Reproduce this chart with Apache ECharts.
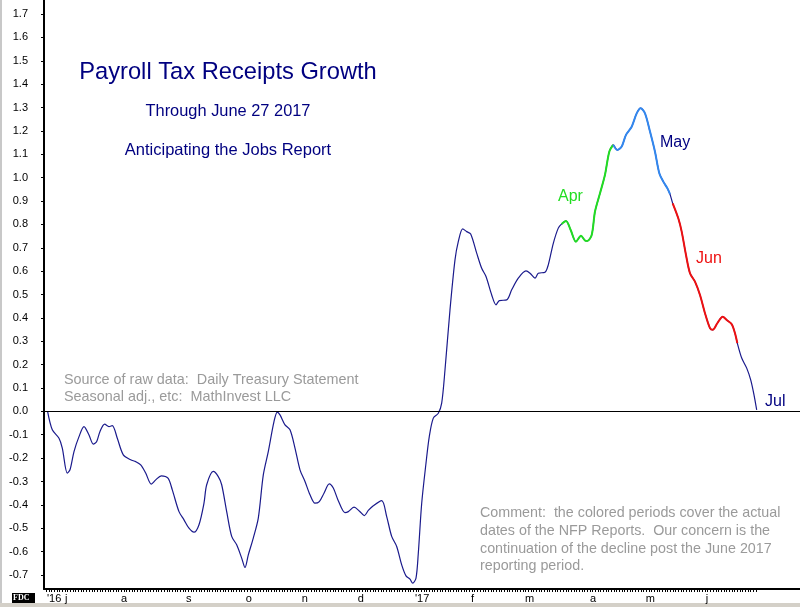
<!DOCTYPE html>
<html>
<head>
<meta charset="utf-8">
<script src="https://cdn.jsdelivr.net/npm/echarts@6/dist/echarts.min.js"></script>
<style>
html,body{margin:0;padding:0;background:#fff;}
#chart{width:800px;height:607px;}
</style>
</head>
<body>
<div id="chart"></div>
<script>
// x = trading-day index counted from 1 Jul 2016
var dayIndex = [
  -6.5,-4.74,-2.24,-1.01,0.86,1.87,3.36,5.23,7.09,8.96,10.57,11.84,13.07,14.82,16.43,17.66,19.53,21.77,24.53,26.40,
  28.27,30.13,32.23,33.87,35.96,38.46,40.07,42.57,44.44,46.30,48.17,50.04,51.90,52.91,55.38,57.24,58.51,60.38,62.25,64.11,
  65.98,67.21,68.45,70.31,72.18,74.05,75.91,78.04,79.28,80.28,82.15,84.02,85.88,87.75,89.62,91.49,93.35,94.96,96.71,98.69,
  100.19,102.05,104.56,105.79,107.92,109.89,111.76,113.26,115.12,118.26,120.13,121.99,123.86,125.73,127.33,128.83,129.84,131.07,131.93,133.20,
  134.80,136.03,137.53,139.40,140.66,141.90,143.76,145.63,146.86,148.51,150.00,151.49,153.73,155.60,157.21,159.34,160.94,162.17,164.94,166.80,
  169.27,172.14,173.64,175.50,176.74,179.24,180.47,182.34,184.20,185.47,187.08,188.83,190.81,192.68,194.17,195.03,196.68,197.91,199.78,201.64,
  203.25,204.74,206.24,207.88,209.48,211.61,213.48,214.97,216.58,218.45,220.31,221.92,223.41,224.91,225.92,226.92,229.01,230.28,231.89,233.38,
  235.25,237.12,238.98,240.85,241.86,243.58,245.60,247.09,248.96,250.19,251.05,252.69,254.56,256.05,257.28,258.29
];
var growth = [
  0.000,-0.079,-0.115,-0.157,-0.264,-0.250,-0.172,-0.108,-0.065,-0.101,-0.140,-0.129,-0.086,-0.055,-0.065,-0.061,-0.115,-0.186,-0.207,-0.215,
  -0.229,-0.264,-0.311,-0.293,-0.276,-0.286,-0.336,-0.429,-0.464,-0.500,-0.517,-0.485,-0.393,-0.314,-0.257,-0.279,-0.314,-0.429,-0.535,-0.571,
  -0.628,-0.668,-0.614,-0.542,-0.457,-0.272,-0.172,-0.044,-0.003,-0.015,-0.058,-0.079,-0.157,-0.250,-0.300,-0.357,-0.393,-0.386,-0.350,-0.310,
  -0.328,-0.382,-0.433,-0.429,-0.410,-0.426,-0.446,-0.424,-0.404,-0.382,-0.450,-0.535,-0.578,-0.657,-0.704,-0.718,-0.735,-0.713,-0.607,-0.393,
  -0.222,-0.108,-0.029,-0.008,0.035,0.178,0.434,0.648,0.726,0.781,0.769,0.759,0.677,0.612,0.577,0.498,0.456,0.474,0.477,0.520,
  0.570,0.601,0.591,0.570,0.591,0.595,0.627,0.719,0.784,0.802,0.815,0.776,0.726,0.751,0.731,0.729,0.755,0.855,0.933,1.012,
  1.111,1.140,1.118,1.133,1.183,1.218,1.275,1.297,1.275,1.197,1.111,1.019,0.983,0.955,0.929,0.890,0.826,0.769,0.669,0.591,
  0.555,0.498,0.420,0.356,0.349,0.377,0.405,0.391,0.373,0.334,0.292,0.228,0.185,0.135,0.071,0.006
];
// NFP report periods (trading-day index ranges)
var aprPeriod = [185.4, 204.8];
var mayPeriod = [204.7, 226.0];
var junPeriod = [226.9, 251.1];

var monthTickIdx = [-6.72, 0, 20.91, 45.18, 67.5, 88.4, 109.3, 130.7, 151.6, 171.8, 196.0, 216.9, 239.3];
var monthTickLabels = ["'16", "j", "a", "s", "o", "n", "d", "'17", "f", "m", "a", "m", "j"];
var yTickLabels = [-0.7,-0.6,-0.5,-0.4,-0.3,-0.2,-0.1,0.0,0.1,0.2,0.3,0.4,0.5,0.6,0.7,0.8,0.9,1.0,1.1,1.2,1.3,1.4,1.5,1.6,1.7];

var allPts = dayIndex.map(function(d, i){ return [d, growth[i]]; });
function inRange(r){ return allPts.filter(function(p){ return p[0] >= r[0] && p[0] <= r[1]; }); }
var dailyTicks = [];
for (var t = -7; t <= 258; t++) dailyTicks.push(t);

var labelMap = {};
monthTickIdx.forEach(function(v, i){ labelMap[v.toFixed(2)] = monthTickLabels[i]; });

var chart = echarts.init(document.getElementById('chart'), null, {renderer: 'canvas'});
var FONT = '"Liberation Sans", Arial, sans-serif';
chart.setOption({
  backgroundColor: '#ffffff',
  animation: false,
  grid: {left: 44, right: 0, top: 0, bottom: 18, containLabel: false},
  xAxis: {
    type: 'value', min: -7.84, max: 274.46,
    splitLine: {show: false},
    axisLine: {show: true, onZero: false, lineStyle: {color: '#000', width: 2}},
    axisTick: {show: true, customValues: dailyTicks, length: 3, lineStyle: {color: '#000', width: 1}},
    axisLabel: {
      show: true, customValues: monthTickIdx, align: 'left', margin: 4,
      fontSize: 11, color: '#000', fontFamily: FONT, hideOverlap: false,
      formatter: function(v){ return labelMap[v.toFixed(2)] || ''; }
    }
  },
  yAxis: {
    type: 'value', min: -0.76, max: 1.76,
    splitLine: {show: false},
    axisLine: {show: true, onZero: false, lineStyle: {color: '#000', width: 2}},
    axisTick: {show: true, customValues: yTickLabels, length: 3, lineStyle: {color: '#000'}},
    axisLabel: {
      show: true, customValues: yTickLabels, margin: 16, fontSize: 11, color: '#000', fontFamily: FONT,
      formatter: function(v){ return (Math.abs(v) < 1e-9 ? 0 : v).toFixed(1); }
    }
  },
  series: [
    {
      type: 'line', data: allPts, symbol: 'none', smooth: 0.3,
      lineStyle: {color: '#1a1a8c', width: 1.2},
      markLine: {
        silent: true, symbol: 'none', label: {show: false},
        lineStyle: {color: '#000', width: 1, type: 'solid'},
        data: [{yAxis: 0}]
      },
      z: 2
    },
    {type: 'line', data: inRange(aprPeriod), symbol: 'none', smooth: 0.3, lineStyle: {color: '#22dd22', width: 2}, z: 3},
    {type: 'line', data: inRange(mayPeriod), symbol: 'none', smooth: 0.3, lineStyle: {color: '#3388ee', width: 2}, z: 3},
    {type: 'line', data: inRange(junPeriod), symbol: 'none', smooth: 0.3, lineStyle: {color: '#ee1111', width: 2}, z: 3}
  ],
  graphic: [
    {type: 'rect', left: 0, top: 0, shape: {width: 2, height: 607}, style: {fill: '#c8c8c8'}, silent: true},
    {type: 'rect', left: 0, top: 603, shape: {width: 800, height: 4}, style: {fill: '#d4d0c8'}, silent: true},
    {type: 'rect', left: 12, top: 593, shape: {width: 23, height: 10}, style: {fill: '#000'}, silent: true},
    {type: 'text', left: 13, top: 594, style: {text: 'FDC', fill: '#fff', font: 'bold 8px "Liberation Serif", serif'}},
    {type: 'text', x: 228, y: 72, style: {text: 'Payroll Tax Receipts Growth', fill: '#000080', font: '23.7px ' + FONT, textAlign: 'center', textVerticalAlign: 'middle'}},
    {type: 'text', x: 228, y: 111, style: {text: 'Through June 27 2017', fill: '#000080', font: '16.4px ' + FONT, textAlign: 'center', textVerticalAlign: 'middle'}},
    {type: 'text', x: 228, y: 150, style: {text: 'Anticipating the Jobs Report', fill: '#000080', font: '16.5px ' + FONT, textAlign: 'center', textVerticalAlign: 'middle'}},
    {type: 'text', x: 64, y: 380, style: {text: 'Source of raw data:  Daily Treasury Statement', fill: '#9a9a9a', font: '14.4px ' + FONT, textVerticalAlign: 'middle'}},
    {type: 'text', x: 64, y: 397, style: {text: 'Seasonal adj., etc:  MathInvest LLC', fill: '#9a9a9a', font: '14.4px ' + FONT, textVerticalAlign: 'middle'}},
    {type: 'text', x: 480, y: 513, style: {text: 'Comment:  the colored periods cover the actual', fill: '#9a9a9a', font: '14.3px ' + FONT, textVerticalAlign: 'middle'}},
    {type: 'text', x: 480, y: 531, style: {text: 'dates of the NFP Reports.  Our concern is the', fill: '#9a9a9a', font: '14.3px ' + FONT, textVerticalAlign: 'middle'}},
    {type: 'text', x: 480, y: 549, style: {text: 'continuation of the decline post the June 2017', fill: '#9a9a9a', font: '14.3px ' + FONT, textVerticalAlign: 'middle'}},
    {type: 'text', x: 480, y: 566, style: {text: 'reporting period.', fill: '#9a9a9a', font: '14.3px ' + FONT, textVerticalAlign: 'middle'}},
    {type: 'text', x: 558, y: 197, style: {text: 'Apr', fill: '#22dd22', font: '16px ' + FONT, textVerticalAlign: 'middle'}},
    {type: 'text', x: 660, y: 143, style: {text: 'May', fill: '#000080', font: '16px ' + FONT, textVerticalAlign: 'middle'}},
    {type: 'text', x: 696, y: 259, style: {text: 'Jun', fill: '#ee1111', font: '16px ' + FONT, textVerticalAlign: 'middle'}},
    {type: 'text', x: 765, y: 402, style: {text: 'Jul', fill: '#000080', font: '16px ' + FONT, textVerticalAlign: 'middle'}}
  ]
});
</script>
</body>
</html>
